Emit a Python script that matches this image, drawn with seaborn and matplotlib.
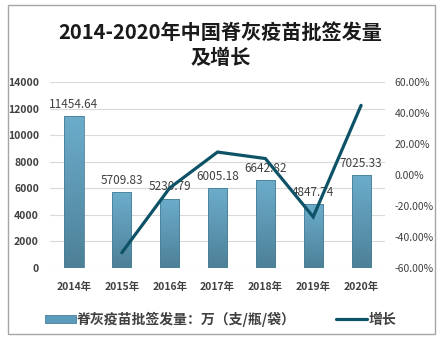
import numpy as np
import pandas as pd
import matplotlib
matplotlib.use("Agg")
import matplotlib.pyplot as plt
import seaborn as sns
from matplotlib.patches import Rectangle
from matplotlib.lines import Line2D
from matplotlib.colors import LinearSegmentedColormap
from matplotlib.ticker import FuncFormatter, MultipleLocator

years = ["2014年", "2015年", "2016年", "2017年", "2018年", "2019年", "2020年"]
volume = [11454.64, 5709.83, 5230.79, 6005.18, 6642.82, 4847.74, 7025.33]
growth_years = ["2015年", "2016年", "2017年", "2018年", "2019年", "2020年"]
growth = [-50.15, -8.39, 14.80, 10.62, -27.02, 44.92]

title = "2014-2020年中国脊灰疫苗批签发量\n及增长"
bar_label = "脊灰疫苗批签发量：万（支/瓶/袋）"
line_label = "增长"

sns.set_theme(style="white")
plt.rcParams['font.family'] = ['Noto Sans CJK SC', 'DejaVu Sans']

W, H = 441, 340
fig = plt.figure(figsize=(W / 100, H / 100), dpi=100)
fig.patch.set_facecolor("white")

ax = fig.add_axes([50 / W, 72 / H, 335 / W, 186 / H])
df = pd.DataFrame({"year": years, "volume": volume})
sns.barplot(data=df, x="year", y="volume", order=years, color="#5b96b2",
            width=0.4, saturation=1, edgecolor="#4a7f98", linewidth=0.6, ax=ax)

# vertical gradient on bars
cmap = LinearSegmentedColormap.from_list("g", ["#4d8097", "#6cadcc"])
grad = np.linspace(0, 1, 256).reshape(-1, 1)
for p in list(ax.patches):
    x0, y0, w, h = p.get_x(), p.get_y(), p.get_width(), p.get_height()
    im = ax.imshow(grad, extent=[x0, x0 + w, y0, y0 + h], origin="lower",
                   aspect="auto", cmap=cmap, zorder=p.get_zorder() + 0.1)
    im.set_clip_path(p)
    p.set_zorder(p.get_zorder() + 0.2)
    p.set_facecolor("none")

ax.set_xlim(-0.5, len(years) - 0.5)
ax.set_ylim(0, 14000)
ax.yaxis.set_major_locator(MultipleLocator(2000))
ax.grid(axis="y", color="#d9d9d9", lw=0.8)
ax.grid(axis="x", visible=False)
ax.set_axisbelow(True)
for s in ax.spines.values():
    s.set_visible(False)
ax.set_xlabel("")
ax.set_ylabel("")
ax.tick_params(axis="both", length=0)
ax.tick_params(axis="y", pad=8, labelsize=7.5, labelcolor="#404040")
ax.tick_params(axis="x", pad=10, labelsize=7.5, labelcolor="#404040")
for t in ax.get_yticklabels() + ax.get_xticklabels():
    t.set_fontweight("bold")

for i, v in enumerate(volume):
    ax.text(i, v + 380, f"{v:.2f}", ha="center", va="bottom",
            fontsize=8.5, color="#404040")

ax2 = ax.twinx()
line_x = [years.index(y) for y in growth_years]
sns.lineplot(x=line_x, y=growth, color="#0d5266", lw=2.3, ax=ax2,
             solid_capstyle="round", solid_joinstyle="miter")
ax2.set_xlim(-0.5, len(years) - 0.5)
ax2.set_ylim(-60, 60)
ax2.yaxis.set_major_locator(MultipleLocator(20))
ax2.yaxis.set_major_formatter(FuncFormatter(lambda v, _: f"{v:.2f}%"))
for s in ax2.spines.values():
    s.set_visible(False)
ax2.tick_params(axis="y", length=0, pad=7, labelsize=7.5, labelcolor="#404040")
ax2.set_ylabel("")
ax2.grid(False)

fig.text(0.5, 1 - 32 / H, title.split("\n")[0], ha="center", va="center",
         fontsize=14.5, fontweight="bold", color="#1a1a1a")
fig.text(0.5, 1 - 58 / H, title.split("\n")[1], ha="center", va="center",
         fontsize=14.5, fontweight="bold", color="#1a1a1a")

h1 = Rectangle((0, 0), 1, 1, facecolor="#5b9bbb", edgecolor="#4a7f98", lw=0.6)
h2 = Line2D([0], [0], color="#0d5266", lw=2.3, solid_capstyle="round")
fig.legend([h1, h2], [bar_label, line_label], loc="center",
           bbox_to_anchor=(0.5, 1 - 319 / H), ncol=2, frameon=False,
           prop={"size": 10, "weight": "bold"}, handlelength=2.2,
           handleheight=0.5, handletextpad=0.1, columnspacing=2.9,
           labelcolor="#404040")

fig.patches.append(Rectangle((8 / W, 6 / H), 427 / W, 329 / H,
                             transform=fig.transFigure, fill=False,
                             edgecolor="#a6a6a6", lw=1.0))

fig.savefig("out.png", dpi=100)
